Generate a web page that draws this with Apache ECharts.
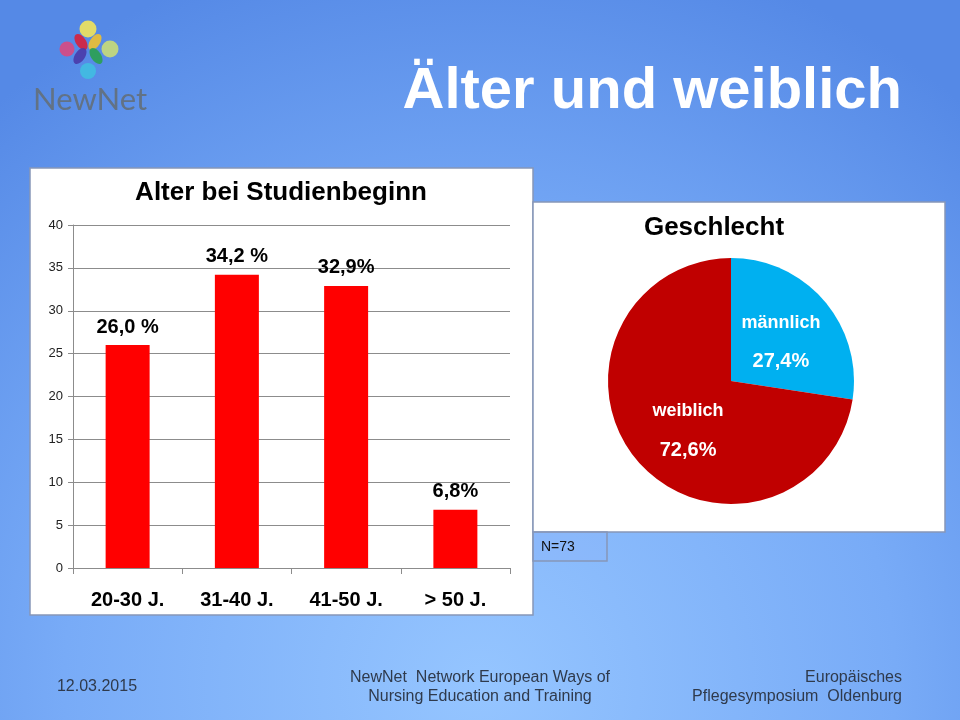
<!DOCTYPE html>
<html>
<head>
<meta charset="utf-8">
<script src="https://cdn.jsdelivr.net/npm/echarts@6/dist/echarts.min.js"></script>
<style>
html,body{margin:0;padding:0;}
#c{width:960px;height:720px;}
</style>
</head>
<body>
<div id="c"></div>
<script>
// ---- data ----
const ageCategories = ['20-30 J.', '31-40 J.', '41-50 J.', '> 50 J.'];
const ageValues = [26.0, 34.2, 32.9, 6.8];
const ageLabels = ['26,0 %', '34,2 %', '32,9%', '6,8%'];
const yTicks = {min: 0, max: 40, interval: 5};

const genderNames = ['männlich', 'weiblich'];
const genderValues = [27.4, 72.6];
const genderLabels = ['27,4%', '72,6%'];

// ---- styles ----
const genderColors = ['#00B0F0', '#C00000'];
const pieLabelOffsets = [[1, 4], [6, 8]];

const chart = echarts.init(document.getElementById('c'));
const FONT = '"Liberation Sans", Arial, sans-serif';
const NARROW = '"Liberation Sans Narrow", "Arial Narrow", "Liberation Sans", sans-serif';
const boxStroke = '#8797b8';

chart.setOption({
  backgroundColor: {
    type: 'radial', x: 0.5, y: 0.95, r: 1.05,
    colorStops: [
      {offset: 0, color: '#95c5ff'},
      {offset: 0.55, color: '#78abf7'},
      {offset: 1, color: '#5589e6'}
    ]
  },
  textStyle: {fontFamily: FONT},
  graphic: [
    // boxes
    {type: 'rect', z: -10, shape: {x: 30, y: 168, width: 503, height: 447},
      style: {fill: '#ffffff', stroke: boxStroke, lineWidth: 1.5}},
    {type: 'rect', z: -10, shape: {x: 533, y: 202, width: 412, height: 330},
      style: {fill: '#ffffff', stroke: boxStroke, lineWidth: 1.5}},
    {type: 'rect', z: -10, shape: {x: 533, y: 532, width: 74, height: 29},
      style: {fill: 'rgba(140,180,250,0.35)', stroke: boxStroke, lineWidth: 1.5}},
    {type: 'text', z: 10, style: {x: 541, y: 547, text: 'N=73', fill: '#111', font: '14px ' + FONT, textVerticalAlign: 'middle'}},
    // chart titles
    {type: 'text', z: 10, style: {x: 281, y: 193, text: 'Alter bei Studienbeginn', fill: '#000', font: 'bold 26px ' + FONT, textAlign: 'center', textVerticalAlign: 'middle'}},
    {type: 'text', z: 10, style: {x: 714, y: 228, text: 'Geschlecht', fill: '#000', font: 'bold 26px ' + FONT, textAlign: 'center', textVerticalAlign: 'middle'}},
    // slide title
    {type: 'text', z: 10, style: {x: 902, y: 92, text: 'Älter und weiblich', fill: '#ffffff', font: 'bold 58px ' + FONT, textAlign: 'right', textVerticalAlign: 'middle'}},
    // logo
    {type: 'group', z: 5, children: [
      {type: 'circle', shape: {cx: 88, cy: 29, r: 8.5}, style: {fill: '#f2e45a', opacity: 0.9}},
      {type: 'circle', shape: {cx: 67, cy: 49, r: 7.5}, style: {fill: '#e0457a', opacity: 0.85}},
      {type: 'circle', shape: {cx: 110, cy: 49, r: 8.5}, style: {fill: '#c8dc78', opacity: 0.9}},
      {type: 'circle', shape: {cx: 88, cy: 71, r: 8}, style: {fill: '#3fbfe0', opacity: 0.85}},
      {type: 'ellipse', shape: {cx: 81, cy: 42, rx: 5, ry: 9}, rotation: 0.6, originX: 81, originY: 42, style: {fill: '#d8203a', opacity: 0.9}},
      {type: 'ellipse', shape: {cx: 95, cy: 42, rx: 5, ry: 9}, rotation: -0.6, originX: 95, originY: 42, style: {fill: '#f0c030', opacity: 0.9}},
      {type: 'ellipse', shape: {cx: 96, cy: 56, rx: 5, ry: 9}, rotation: 0.6, originX: 96, originY: 56, style: {fill: '#2aa050', opacity: 0.9}},
      {type: 'ellipse', shape: {cx: 80, cy: 56, rx: 5, ry: 9}, rotation: -0.6, originX: 80, originY: 56, style: {fill: '#4a3aa8', opacity: 0.9}}
    ]},
    {type: 'text', z: 10, style: {x: 33, y: 100, text: 'NewNet', fill: '#627285', font: '31px Lato, "Open Sans", sans-serif', textVerticalAlign: 'middle'}},
    // footer
    {type: 'text', z: 10, style: {x: 97, y: 687, text: '12.03.2015', fill: '#2f3a4c', font: '16px ' + NARROW, textAlign: 'center', textVerticalAlign: 'middle'}},
    {type: 'text', z: 10, style: {x: 480, y: 678, text: 'NewNet  Network European Ways of', fill: '#2f3a4c', font: '16px ' + NARROW, textAlign: 'center', textVerticalAlign: 'middle'}},
    {type: 'text', z: 10, style: {x: 480, y: 697, text: 'Nursing Education and Training', fill: '#2f3a4c', font: '16px ' + NARROW, textAlign: 'center', textVerticalAlign: 'middle'}},
    {type: 'text', z: 10, style: {x: 902, y: 678, text: 'Europäisches', fill: '#2f3a4c', font: '16px ' + NARROW, textAlign: 'right', textVerticalAlign: 'middle'}},
    {type: 'text', z: 10, style: {x: 902, y: 697, text: 'Pflegesymposium  Oldenburg', fill: '#2f3a4c', font: '16px ' + NARROW, textAlign: 'right', textVerticalAlign: 'middle'}}
  ],
  grid: {left: 73, right: 450, top: 225, bottom: 152},
  xAxis: {
    type: 'category', data: ageCategories,
    axisLine: {lineStyle: {color: '#8c8c8c'}},
    axisTick: {show: true, length: 6, lineStyle: {color: '#8c8c8c'}},
    axisLabel: {color: '#000', fontSize: 20, fontWeight: 'bold', margin: 22}
  },
  yAxis: {
    type: 'value', min: yTicks.min, max: yTicks.max, interval: yTicks.interval,
    axisLine: {show: true, lineStyle: {color: '#8c8c8c'}},
    axisTick: {show: true, length: 5, lineStyle: {color: '#8c8c8c'}},
    axisLabel: {color: '#222', fontSize: 13, margin: 10},
    splitLine: {lineStyle: {color: '#8c8c8c'}}
  },
  series: [
    {
      type: 'bar', data: ageValues, barWidth: 44,
      itemStyle: {color: '#ff0000'},
      label: {
        show: true, position: 'top', distance: 8,
        color: '#000', fontSize: 20, fontWeight: 'bold',
        formatter: p => ageLabels[p.dataIndex]
      },
      silent: true
    },
    {
      type: 'pie', center: [731, 381], radius: 123, startAngle: 90, clockwise: true,
      data: genderNames.map((n, i) => ({
        name: n, value: genderValues[i],
        itemStyle: {color: genderColors[i]},
        label: {offset: pieLabelOffsets[i]}
      })),
      label: {
        show: true, position: 'inside', color: '#fff', fontWeight: 'bold',
        formatter: p => '{n|' + p.name + '}\n{v|' + genderLabels[p.dataIndex] + '}',
        rich: {
          n: {fontSize: 18, fontWeight: 'bold', color: '#fff', lineHeight: 38},
          v: {fontSize: 20, fontWeight: 'bold', color: '#fff', lineHeight: 40}
        }
      },
      labelLine: {show: false},
      itemStyle: {borderWidth: 0},
      emphasis: {disabled: true},
      silent: true
    }
  ]
});
</script>
</body>
</html>
